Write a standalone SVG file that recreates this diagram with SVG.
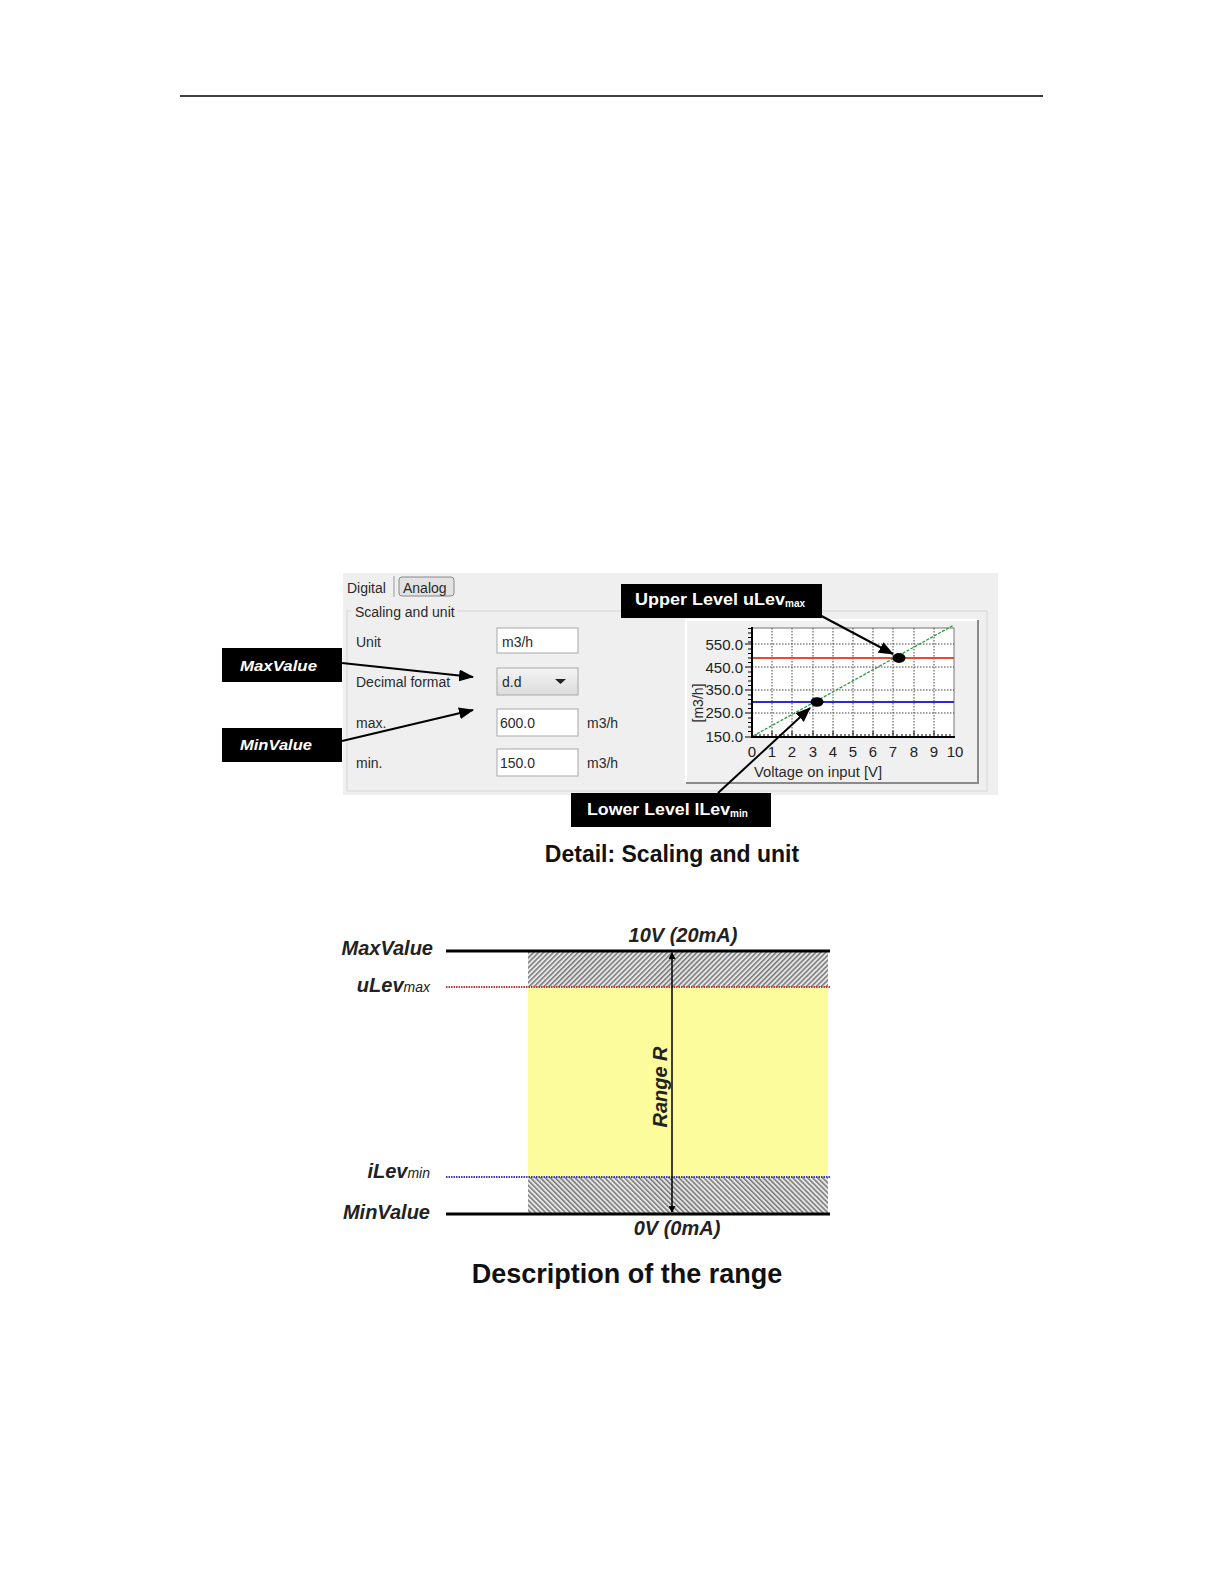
<svg xmlns="http://www.w3.org/2000/svg" width="1224" height="1584" viewBox="0 0 1224 1584">
<style>
.ui{font-family:"Liberation Sans",Arial,sans-serif;font-size:14px;fill:#2a2a2a}
.ax{font-family:"Liberation Sans",Arial,sans-serif;font-size:15px;fill:#222}
.lbl{font-family:"Liberation Sans",Arial,sans-serif;font-weight:bold;fill:#fff}
.cap{font-family:"Liberation Sans",Arial,sans-serif;font-weight:bold;fill:#111}
.it{font-family:"Liberation Sans",Arial,sans-serif;font-weight:bold;font-style:italic;font-size:20px;fill:#222}
.sub{font-weight:normal;font-size:14px}
.box{fill:#fff;stroke:#a8a8a8;stroke-width:1}
.grid{stroke:#444;stroke-width:1;stroke-dasharray:1.5,1.5}
.conn{stroke:#000;stroke-width:2;fill:none;marker-end:url(#ah)}
</style>
<defs>
<marker id="ah" markerWidth="15" markerHeight="12" refX="14" refY="6" orient="auto" markerUnits="userSpaceOnUse"><path d="M0,0 L15,6 L0,12 z" fill="#000"/></marker>
<marker id="sa" markerWidth="7" markerHeight="7" refX="6" refY="3.5" orient="auto" markerUnits="userSpaceOnUse"><path d="M0,0 L7,3.5 L0,7 z" fill="#000"/></marker>
<marker id="sb" markerWidth="7" markerHeight="7" refX="1" refY="3.5" orient="auto" markerUnits="userSpaceOnUse"><path d="M7,0 L0,3.5 L7,7 z" fill="#000"/></marker>
<pattern id="hatchA" width="3.5" height="3.5" patternUnits="userSpaceOnUse" patternTransform="rotate(45)"><rect width="3.5" height="3.5" fill="#e6e6e6"/><line x1="0.8" y1="0" x2="0.8" y2="3.5" stroke="#5a5a5a" stroke-width="1.2"/></pattern>
<pattern id="hatchB" width="3.5" height="3.5" patternUnits="userSpaceOnUse" patternTransform="rotate(-45)"><rect width="3.5" height="3.5" fill="#e6e6e6"/><line x1="0.8" y1="0" x2="0.8" y2="3.5" stroke="#5a5a5a" stroke-width="1.2"/></pattern>
<linearGradient id="dd" x1="0" y1="0" x2="0" y2="1"><stop offset="0" stop-color="#f4f4f4"/><stop offset="1" stop-color="#dcdcdc"/></linearGradient>
</defs>

<line x1="180" y1="96" x2="1043" y2="96" stroke="#000" stroke-width="1.5"/>

<g id="panel">
<rect x="343" y="573" width="655" height="222" fill="#efefef"/>
<rect x="347" y="611" width="640" height="180" fill="none" stroke="#d6d6d6"/>
<rect x="351" y="603" width="106" height="16" fill="#efefef"/>
<text class="ui" x="347" y="593">Digital</text>
<line x1="394" y1="576" x2="394" y2="597" stroke="#999"/>
<rect x="399" y="577" width="55" height="19" rx="3" fill="#e2e2e2" stroke="#888"/>
<text class="ui" x="403" y="593">Analog</text>
<text class="ui" x="355" y="617">Scaling and unit</text>
<text class="ui" x="356" y="647">Unit</text>
<text class="ui" x="356" y="687">Decimal format</text>
<text class="ui" x="356" y="728">max.</text>
<text class="ui" x="356" y="768">min.</text>
<rect class="box" x="497" y="628" width="81" height="25"/>
<text class="ui" x="502" y="647">m3/h</text>
<rect x="497" y="668" width="81" height="27" fill="url(#dd)" stroke="#a8a8a8"/>
<text class="ui" x="502" y="687">d.d</text>
<path d="M555,679 L566,679 L560.5,684 z" fill="#222"/>
<rect class="box" x="497" y="709" width="81" height="27"/>
<text class="ui" x="500" y="728">600.0</text>
<text class="ui" x="587" y="728">m3/h</text>
<rect class="box" x="497" y="749" width="81" height="27"/>
<text class="ui" x="500" y="768">150.0</text>
<text class="ui" x="587" y="768">m3/h</text>
</g>

<g id="chart">
<rect x="686" y="620" width="292" height="163" fill="#f0f0f0"/>
<path d="M686,783 L686,620 L978,620" fill="none" stroke="#fff" stroke-width="2"/>
<path d="M686,783 L978,783 L978,620" fill="none" stroke="#8a8a8a" stroke-width="2"/>
<rect x="752" y="628" width="202" height="109" fill="#fff" stroke="#777" stroke-width="1"/>
<g class="grid">
<line x1="772" y1="628" x2="772" y2="737"/><line x1="792" y1="628" x2="792" y2="737"/><line x1="813" y1="628" x2="813" y2="737"/><line x1="833" y1="628" x2="833" y2="737"/><line x1="853" y1="628" x2="853" y2="737"/><line x1="873" y1="628" x2="873" y2="737"/><line x1="893" y1="628" x2="893" y2="737"/><line x1="914" y1="628" x2="914" y2="737"/><line x1="934" y1="628" x2="934" y2="737"/>
<line x1="752" y1="644" x2="954" y2="644"/><line x1="752" y1="667" x2="954" y2="667"/><line x1="752" y1="690" x2="954" y2="690"/><line x1="752" y1="713" x2="954" y2="713"/>
</g>
<line x1="752" y1="658" x2="954" y2="658" stroke="#e0502a" stroke-width="2"/>
<line x1="752" y1="702" x2="954" y2="702" stroke="#2a2ad8" stroke-width="2"/>
<line x1="753" y1="736" x2="954" y2="625" stroke="#2a9a3a" stroke-width="1.3" stroke-dasharray="3,1.5"/>
<line x1="752" y1="627" x2="752" y2="738" stroke="#000" stroke-width="2"/>
<line x1="751" y1="737" x2="955" y2="737" stroke="#000" stroke-width="2"/>
<path d="M748,628.5h4M748,633h4M748,637.5h4M748,642h4M745,644h7M748,649h4M748,653.5h4M748,658h4M748,662.5h4M745,667h7M748,672h4M748,676.5h4M748,681h4M748,685.5h4M745,690h7M748,695h4M748,699.5h4M748,704h4M748,708.5h4M745,713h7M748,718h4M748,722.5h4M748,727h4M748,731.5h4M745,737h7" stroke="#000" stroke-width="1"/>
<path d="M756,737v-3M760,737v-3M764,737v-3M768,737v-3M772,737v-6M776,737v-3M780,737v-3M784,737v-3M788,737v-3M792,737v-6M796,737v-3M800,737v-3M805,737v-3M809,737v-3M813,737v-6M817,737v-3M821,737v-3M825,737v-3M829,737v-3M833,737v-6M837,737v-3M841,737v-3M845,737v-3M849,737v-3M853,737v-6M857,737v-3M861,737v-3M865,737v-3M869,737v-3M873,737v-6M877,737v-3M881,737v-3M885,737v-3M889,737v-3M893,737v-6M897,737v-3M902,737v-3M906,737v-3M910,737v-3M914,737v-6M918,737v-3M922,737v-3M926,737v-3M930,737v-3M934,737v-6M938,737v-3M942,737v-3M946,737v-3M950,737v-3" stroke="#000" stroke-width="1"/>
<ellipse cx="899" cy="658" rx="6.5" ry="5" fill="#000"/>
<ellipse cx="817" cy="702" rx="6.5" ry="4.8" fill="#000"/>
<g class="ax" text-anchor="end">
<text x="743" y="650">550.0</text><text x="743" y="673">450.0</text><text x="743" y="695">350.0</text><text x="743" y="718">250.0</text><text x="743" y="742">150.0</text>
</g>
<g class="ax" text-anchor="middle">
<text x="752" y="757">0</text><text x="772" y="757">1</text><text x="792" y="757">2</text><text x="813" y="757">3</text><text x="833" y="757">4</text><text x="853" y="757">5</text><text x="873" y="757">6</text><text x="893" y="757">7</text><text x="914" y="757">8</text><text x="934" y="757">9</text><text x="955" y="757">10</text>
</g>
<text class="ui" x="818" y="777" text-anchor="middle" textLength="128" lengthAdjust="spacingAndGlyphs">Voltage on input [V]</text>
<text class="ui" transform="translate(703,703) rotate(-90)" text-anchor="middle">[m3/h]</text>
</g>

<g id="maxvalue-label">
<rect x="222" y="648" width="120" height="34" fill="#000"/>
<text class="lbl" x="240" y="671" font-size="15" font-style="italic" textLength="77" lengthAdjust="spacingAndGlyphs">MaxValue</text>
</g>
<g id="minvalue-label">
<rect x="222" y="728" width="120" height="34" fill="#000"/>
<text class="lbl" x="240" y="750" font-size="15" font-style="italic" textLength="72" lengthAdjust="spacingAndGlyphs">MinValue</text>
</g>
<g id="upper-level-label">
<rect x="621" y="584" width="201" height="34" fill="#000"/>
<text class="lbl" x="635" y="605" font-size="16"><tspan textLength="150" lengthAdjust="spacingAndGlyphs">Upper Level uLev</tspan><tspan font-size="10" dy="2">max</tspan></text>
</g>
<g id="lower-level-label">
<rect x="571" y="793" width="200" height="34" fill="#000"/>
<text class="lbl" x="587" y="815" font-size="16"><tspan textLength="143" lengthAdjust="spacingAndGlyphs">Lower Level lLev</tspan><tspan font-size="10" dy="2">min</tspan></text>
</g>

<g id="connectors">
<line class="conn" x1="342" y1="663" x2="473" y2="677"/>
<line class="conn" x1="342" y1="741" x2="473" y2="710"/>
<line class="conn" x1="814" y1="612" x2="893" y2="654"/>
<line class="conn" x1="718" y1="793" x2="810" y2="708"/>
</g>

<text class="cap" x="672" y="862" font-size="23" text-anchor="middle">Detail: Scaling and unit</text>

<g id="range">
<rect x="528" y="951" width="300" height="36" fill="url(#hatchA)"/>
<rect x="528" y="987" width="300" height="190" fill="#fcfc9c"/>
<rect x="528" y="1177" width="300" height="37" fill="url(#hatchB)"/>
<line x1="446" y1="951" x2="830" y2="951" stroke="#000" stroke-width="3"/>
<line x1="446" y1="1214" x2="830" y2="1214" stroke="#000" stroke-width="3"/>
<line x1="446" y1="987" x2="830" y2="987" stroke="#c03838" stroke-width="2.2" stroke-dasharray="1.5,1"/>
<line x1="446" y1="1177" x2="830" y2="1177" stroke="#3a3ac0" stroke-width="2.2" stroke-dasharray="1.5,1"/>
<line x1="672" y1="1212" x2="672" y2="953" stroke="#000" stroke-width="1.5" marker-start="url(#sb)" marker-end="url(#sa)"/>
<text class="it" x="683" y="942" text-anchor="middle">10V (20mA)</text>
<text class="it" x="677" y="1235" text-anchor="middle">0V (0mA)</text>
<text class="it" transform="translate(667,1087) rotate(-90)" text-anchor="middle">Range R</text>
<text class="it" x="433" y="955" text-anchor="end">MaxValue</text>
<text class="it" x="430" y="992" text-anchor="end">uLev<tspan class="sub">max</tspan></text>
<text class="it" x="430" y="1178" text-anchor="end">iLev<tspan class="sub">min</tspan></text>
<text class="it" x="430" y="1219" text-anchor="end">MinValue</text>
</g>

<text class="cap" x="627" y="1283" font-size="27" text-anchor="middle">Description of the range</text>
</svg>
